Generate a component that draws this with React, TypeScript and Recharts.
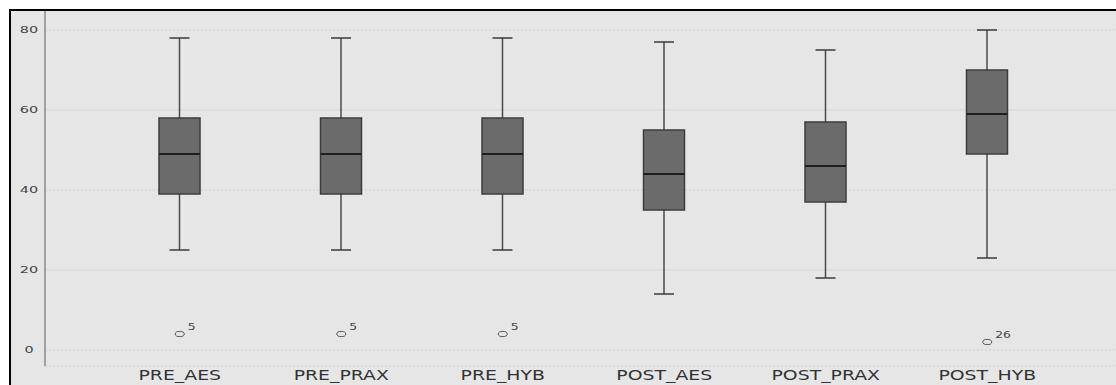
import { Bar, CartesianGrid, ComposedChart, Line, XAxis, YAxis } from "recharts";

const groups = ["PRE_AES", "PRE_PRAX", "PRE_HYB", "POST_AES", "POST_PRAX", "POST_HYB"];
const mins = [25, 25, 25, 14, 18, 23];
const q1s = [39, 39, 39, 35, 37, 49];
const medians = [49, 49, 49, 44, 46, 59];
const q3s = [58, 58, 58, 55, 57, 70];
const maxes = [78, 78, 78, 77, 75, 80];
const outliers: Array<number | null> = [4, 4, 4, null, null, 2];
const outlierIds = ["5", "5", "5", "", "", "26"];
const yTicks = [0, 20, 40, 60, 80];

const data = groups.map((name, i) => ({
  name,
  min: mins[i],
  q1: q1s[i],
  median: medians[i],
  q3: q3s[i],
  max: maxes[i],
  outlier: outliers[i],
  outlierId: outlierIds[i],
}));

const FONT = "'DejaVu Sans', Verdana, sans-serif";

function BoxShape(props: any) {
  const { x, y, width, height, payload } = props;
  if (payload == null || height == null) return null;
  const { min, q1, median, q3, max } = payload;
  // map a value to pixels using the bar's own [min, max] extent
  const py = (v: number) => y + ((max - v) / (max - min)) * height;
  const cx = x + width / 2;
  const cap = 10;
  return (
    <g>
      <line x1={cx} x2={cx} y1={py(max)} y2={py(q3)} stroke="#4a4a4a" strokeWidth={1.5} />
      <line x1={cx} x2={cx} y1={py(q1)} y2={py(min)} stroke="#4a4a4a" strokeWidth={1.5} />
      <line x1={cx - cap} x2={cx + cap} y1={py(max)} y2={py(max)} stroke="#3a3a3a" strokeWidth={1.5} />
      <line x1={cx - cap} x2={cx + cap} y1={py(min)} y2={py(min)} stroke="#3a3a3a" strokeWidth={1.5} />
      <rect
        x={x}
        y={py(q3)}
        width={width}
        height={py(q1) - py(q3)}
        fill="#6b6b6b"
        stroke="#3c3c3c"
        strokeWidth={1.5}
      />
      <line x1={x} x2={x + width} y1={py(median)} y2={py(median)} stroke="#1e1e1e" strokeWidth={2} />
    </g>
  );
}

function OutlierDot(props: any) {
  const { cx, cy, payload } = props;
  if (payload == null || payload.outlier == null || cy == null || isNaN(cy)) return null;
  return (
    <g key={`o-${payload.name}`}>
      <ellipse cx={cx} cy={cy} rx={4.5} ry={2.6} fill="none" stroke="#555" strokeWidth={1} />
      <text
        transform={`translate(${cx + 8}, ${cy - 4.5}) scale(1.45, 1)`}
        fontSize={8.5}
        fontFamily={FONT}
        fill="#444"
      >
        {payload.outlierId}
      </text>
    </g>
  );
}

function YTick(props: any) {
  const { y, payload } = props;
  return (
    <text
      transform={`translate(29, ${y + 3.3}) scale(1.6, 1)`}
      textAnchor="middle"
      fontSize={9}
      fontFamily={FONT}
      fill="#444"
    >
      {payload.value}
    </text>
  );
}

function XTick(props: any) {
  const { x, payload } = props;
  return (
    <text
      transform={`translate(${x}, 380) scale(1.3, 1)`}
      textAnchor="middle"
      fontSize={14.5}
      fontFamily={FONT}
      fill="#333"
    >
      {payload.value}
    </text>
  );
}

export default function App() {
  return (
    <div
      style={{
        position: "absolute",
        left: 0,
        top: 0,
        width: 1116,
        height: 385,
        overflow: "hidden",
        background: "#fff",
      }}
    >
      <div
        style={{
          position: "absolute",
          left: 9,
          top: 9,
          width: 1120,
          height: 400,
          border: "2px solid #000",
          background: "#e6e6e6",
        }}
      />
      <div style={{ position: "absolute", left: 0, top: 0 }}>
        <ComposedChart
          width={1116}
          height={385}
          data={data}
          margin={{ top: 11, right: 0, bottom: 0, left: 0 }}
        >
          <CartesianGrid horizontal vertical={false} horizontalValues={[20, 60]} stroke="#d7d7d7" />
          <CartesianGrid
            horizontal
            vertical={false}
            horizontalValues={[0, 40, 80]}
            stroke="#cfcfcf"
            strokeDasharray="2 2"
          />
          <XAxis
            dataKey="name"
            type="category"
            height={19}
            padding={{ left: 54, right: 48 }}
            axisLine={{ stroke: "#cfcfcf", strokeDasharray: "2 2" }}
            tickLine={false}
            tick={<XTick />}
            interval={0}
          />
          <YAxis
            width={45}
            domain={[-4, 84.75]}
            ticks={yTicks}
            allowDataOverflow
            axisLine={{ stroke: "#8a8a8a", strokeWidth: 1.5 }}
            tickLine={false}
            tick={<YTick />}
          />
          <Bar
            dataKey={(d: any) => [d.min, d.max]}
            barSize={41}
            shape={<BoxShape />}
            isAnimationActive={false}
          />
          <Line
            dataKey="outlier"
            stroke="none"
            dot={<OutlierDot />}
            activeDot={false}
            connectNulls={false}
            isAnimationActive={false}
          />
        </ComposedChart>
      </div>
    </div>
  );
}
